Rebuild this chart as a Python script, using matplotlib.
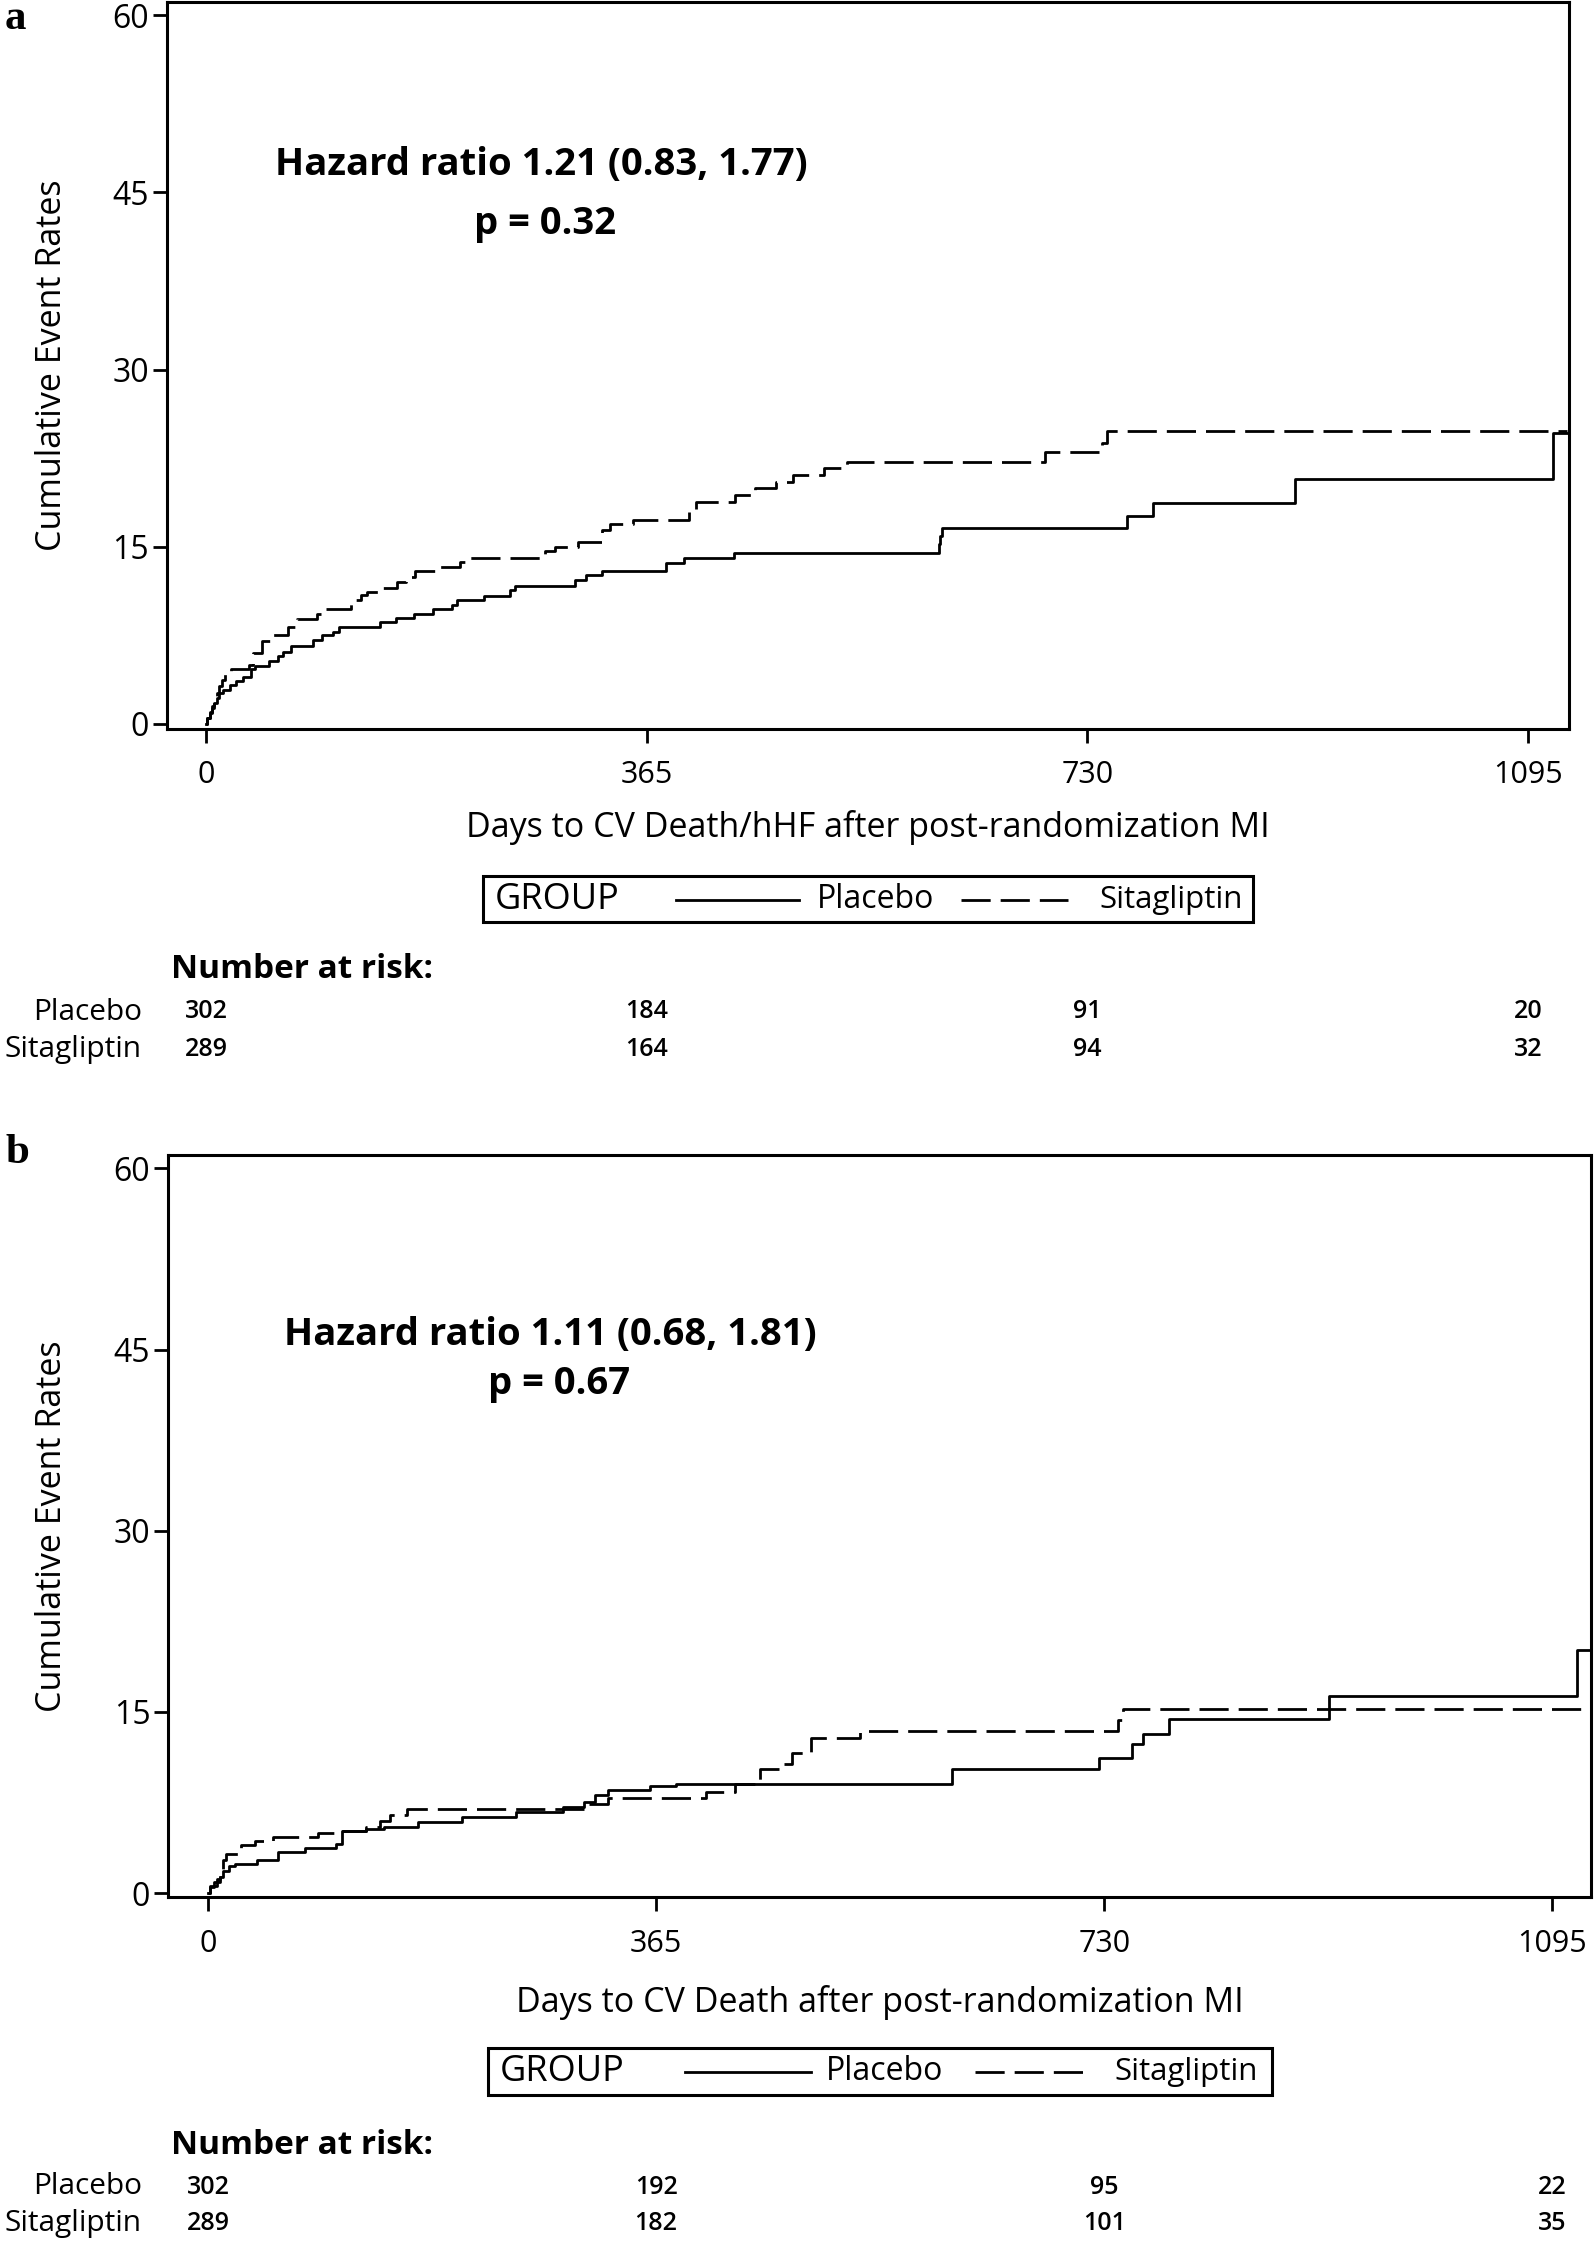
import numpy as np
import matplotlib.pyplot as plt
import matplotlib.transforms as mtransforms
from matplotlib.lines import Line2D
from matplotlib.patches import Rectangle

plt.rcParams['font.family'] = ['Open Sans', 'DejaVu Sans']

W, H = 1595, 2244

# ---- data ----
# panel a: CV death / hHF
a_placebo_days = [0, 1, 3, 5, 7, 9, 11, 14, 20, 25, 31, 37, 41, 52, 60, 64, 70, 89, 96, 105,
                  110, 144, 157, 172, 188, 204, 208, 230, 252, 256, 306, 315, 328, 381, 396, 437,
                  607, 608, 610, 763, 784, 902, 1116, 1127]
a_placebo_rate = [0, 0.5, 0.9, 1.3, 1.8, 2.2, 2.6, 2.9, 3.3, 3.6, 4.0, 4.6, 4.9, 5.3, 5.7, 6.1, 6.6, 7.1, 7.5, 7.8,
                  8.2, 8.6, 9.0, 9.3, 9.7, 10.1, 10.5, 10.8, 11.3, 11.7, 12.2, 12.6, 12.9, 13.6, 14.0, 14.5,
                  15.2, 15.9, 16.6, 17.6, 18.7, 20.7, 24.6, 24.6]
a_sita_days = [0, 1, 3, 5, 7, 9, 11, 13, 16, 21, 36, 39, 46, 55, 68, 75, 92, 99, 120, 128,
               133, 145, 158, 166, 173, 191, 210, 219, 281, 289, 308, 328, 335, 354, 400, 406,
               438, 455, 472, 486, 512, 531, 695, 742, 746, 1127]
a_sita_rate = [0, 0.5, 1.0, 1.5, 2.0, 2.6, 3.2, 3.7, 4.3, 4.6, 5.0, 6.0, 7.0, 7.5, 8.2, 8.9, 9.3, 9.7, 10.5, 10.9,
               11.2, 11.5, 12.0, 12.4, 12.9, 13.3, 13.7, 14.0, 14.6, 15.0, 15.4, 16.4, 16.9, 17.3, 18.2, 18.8,
               19.4, 20.0, 20.5, 21.1, 21.7, 22.2, 23.0, 23.8, 24.8, 24.8]

# panel b: CV death
b_placebo_days = [0, 2, 5, 10, 12.5, 17, 22, 40, 57, 79, 104, 109, 129, 143, 171, 207, 251, 289, 306, 315,
                  326, 360, 381, 606, 726, 753, 762, 783, 913, 1115, 1126]
b_placebo_rate = [0, 0.5, 0.9, 1.35, 1.8, 2.2, 2.4, 2.7, 3.4, 3.7, 4.05, 5.15, 5.3, 5.5, 5.9, 6.3, 6.7, 7.1, 7.5, 8.1,
                  8.5, 8.85, 9.0, 10.3, 11.2, 12.3, 13.2, 14.4, 16.3, 20.1, 20.1]
b_sita_days = [0, 2, 7, 10, 12.5, 15, 27, 38, 53, 90, 108, 129, 140, 148, 162, 306, 326, 406, 429, 450,
               466, 476, 491, 531, 741, 745, 1126]
b_sita_rate = [0, 0.6, 1.2, 1.6, 2.7, 3.2, 4.0, 4.3, 4.6, 5.0, 5.15, 5.5, 6.0, 6.5, 6.95, 7.4, 7.9, 8.4, 9.0, 10.3,
               10.7, 11.6, 12.8, 13.4, 14.3, 15.2, 15.2]

tick_days = [0, 365, 730, 1095]
groups = ["Placebo", "Sitagliptin"]
a_at_risk = [[302, 184, 91, 20], [289, 164, 94, 32]]
b_at_risk = [[302, 192, 95, 22], [289, 182, 101, 35]]

a_hr_text = "Hazard ratio 1.21 (0.83, 1.77)"
a_p_text = "p = 0.32"
b_hr_text = "Hazard ratio 1.11 (0.68, 1.81)"
b_p_text = "p = 0.67"
a_xlabel = "Days to CV Death/hHF after post-randomization MI"
b_xlabel = "Days to CV Death after post-randomization MI"

LW = 2.0
DASH = (0, (10.5, 3.6))


def fx(x):
    return x / W


def fy(y):
    return 1 - y / H


fig = plt.figure(figsize=(W / 100, H / 100), dpi=100)


def draw_panel(rect, xlim, ylim, pla_d, pla_r, sit_d, sit_r, hr_text, p_text, hr_pos, p_pos,
               xlabel, xlabel_y, letter, letter_xy, legend, risk_rows_y, risk_title_y, at_risk):
    ax = fig.add_axes(rect)
    ax.step(pla_d, pla_r, where='post', color='black', lw=LW, label=groups[0])
    ax.step(sit_d, sit_r, where='post', color='black', lw=LW, linestyle=DASH, label=groups[1])

    ax.set_xlim(*xlim)
    ax.set_ylim(*ylim)
    ax.set_xticks(tick_days)
    ax.set_yticks([0, 15, 30, 45, 60])
    for s in ax.spines.values():
        s.set_linewidth(2.2)
    ax.tick_params(axis='both', direction='out', length=10, width=2, color='black')
    ax.tick_params(axis='x', pad=13, labelsize=22)
    ax.tick_params(axis='y', pad=3, labelsize=23)

    ax.set_ylabel("Cumulative Event Rates", fontsize=24.5, va='center')
    ax.yaxis.set_label_coords(-0.082, 0.5)
    ax.set_xlabel(xlabel, fontsize=24.5, va='center')
    ax.xaxis.set_label_coords(0.5, xlabel_y)

    ax.text(hr_pos[0], hr_pos[1], hr_text, ha='center', va='center', fontsize=27.5, fontweight='bold')
    ax.text(p_pos[0], p_pos[1], p_text, ha='center', va='center', fontsize=27.5, fontweight='bold')

    fig.text(fx(letter_xy[0]), fy(letter_xy[1]), letter, fontsize=31, fontweight='bold',
             family='Liberation Serif', ha='left', va='baseline')

    # legend box
    bx0, bx1, by0, by1, ty, gx, sl, px, dl, sx = legend
    fig.patches.append(Rectangle((fx(bx0), fy(by1)), fx(bx1) - fx(bx0), fy(by0) - fy(by1),
                                 transform=fig.transFigure, fill=False, lw=2.2, edgecolor='black'))
    fig.text(fx(gx), fy(ty), "GROUP", fontsize=26, ha='left', va='center')
    fig.lines.append(Line2D([fx(sl[0]), fx(sl[1])], [fy(ty), fy(ty)], transform=fig.transFigure,
                            color='black', lw=LW))
    fig.text(fx(px), fy(ty), groups[0], fontsize=23, ha='left', va='center')
    fig.lines.append(Line2D([fx(dl[0]), fx(dl[1])], [fy(ty), fy(ty)], transform=fig.transFigure,
                            color='black', lw=LW, linestyle=DASH))
    fig.text(fx(sx), fy(ty), groups[1], fontsize=22.5, ha='left', va='center')

    # number at risk table
    fig.text(fx(171), fy(risk_title_y), "Number at risk:", fontsize=24, fontweight='bold',
             ha='left', va='center')
    trans = mtransforms.blended_transform_factory(ax.transData, fig.transFigure)
    for name, row, ry in zip(groups, at_risk, risk_rows_y):
        fig.text(fx(142), fy(ry), name, fontsize=21.5, ha='right', va='center')
        for d, n in zip(tick_days, row):
            ax.text(d, fy(ry), str(n), transform=trans, fontsize=18, fontweight='semibold',
                    ha='center', va='center', clip_on=False)
    return ax


draw_panel([fx(167), fy(728.5), fx(1568.7) - fx(167), fy(2.4) - fy(728.5)],
           (-32.3, 1128.7), (-0.4, 61.1),
           a_placebo_days, a_placebo_rate, a_sita_days, a_sita_rate,
           a_hr_text, a_p_text, (278, 47.3), (281, 42.3),
           a_xlabel, -0.137, "a", (5, 29),
           (483, 1253, 876, 922, 900, 495, (676, 799), 817, (961, 1068), 1099),
           (1012, 1049), 970, a_at_risk)

draw_panel([fx(168.3), fy(1897), fx(1591) - fx(168.3), fy(1154.7) - fy(1897)],
           (-32.3, 1126.5), (-0.33, 61.14),
           b_placebo_days, b_placebo_rate, b_sita_days, b_sita_rate,
           b_hr_text, b_p_text, (279, 46.2), (286, 42.15),
           b_xlabel, -0.1415, "b", (6, 1163),
           (488, 1272, 2048, 2095, 2072, 500, (685, 811), 826, (975, 1091), 1114),
           (2187, 2224), 2145, b_at_risk)

plt.savefig("out.png", dpi=100)
